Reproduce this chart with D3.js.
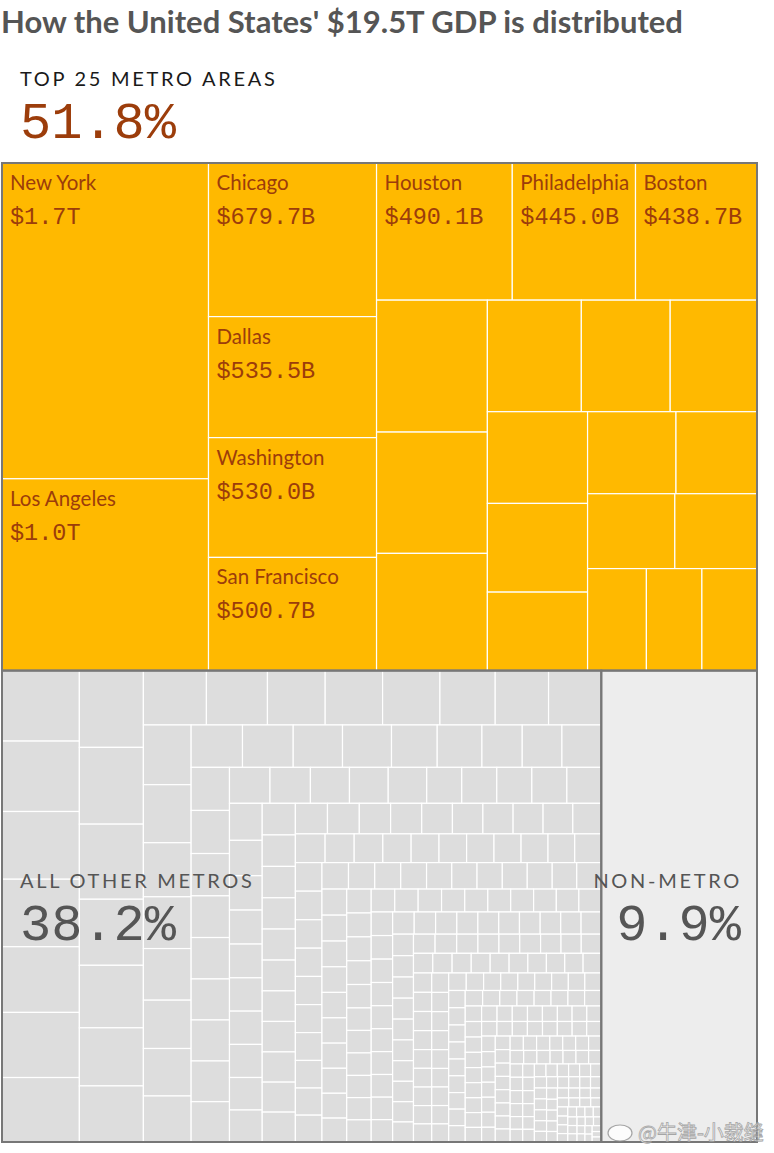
<!DOCTYPE html>
<html>
<head>
<meta charset="utf-8">
<title>US GDP by metro area</title>
<script src="https://cdn.jsdelivr.net/npm/d3@7/dist/d3.min.js"></script>
<style>
  html, body { margin: 0; padding: 0; background: #fff; }
  svg { display: block; }
  .cell-name { font-family: Lato, 'Open Sans', sans-serif; font-size: 20.5px; fill: #9c3d0b; }
  .cell-value { font-family: 'Liberation Mono', 'DejaVu Sans Mono', monospace; font-size: 23.5px; fill: #9c3d0b; }
  .group-label { font-family: Lato, sans-serif; font-size: 20px; letter-spacing: 2.7px; }
  .group-pct { font-family: 'Liberation Mono', 'DejaVu Sans Mono', monospace; font-size: 52px; }
</style>
</head>
<body>
<svg id="chart" width="774" height="1153"></svg>
<script>
// GDP in billions of dollars (cell areas)
const titleText = "How the United States' $19.5T GDP is distributed";
const groupLabels = ['TOP 25 METRO AREAS', 'ALL OTHER METROS', 'NON-METRO'];

const topMetroNames = ['New York', 'Los Angeles', 'Chicago', 'Dallas', 'Washington',
  'San Francisco', 'Houston', 'Philadelphia', 'Boston'];
const topMetroValues = [1717, 1043, 679.7, 535.5, 530.0, 500.7, 490.1, 445.0, 438.7,
  385, 354, 342, 276, 261, 255, 242, 234, 207, 191, 175, 172, 162, 158, 149, 148];

const otherMetroValues = [
  143.6, 143.4, 137.9, 137.5, 133.8, 132.6, 131.3,
  129.5, 129.4, 126.6, 111.4, 105.4, 97.9, 94.6,
  90.3, 87.4, 82.7, 82.2, 82.1, 79.2, 76.4, 75.5,
  75.1, 73.0, 68.0, 65.1, 64.9, 60.8, 59.7, 57.9,
  57.3, 56.6, 55.0, 54.7, 51.0, 49.9, 45.0, 44.3, 43.9,
  43.5, 43.5, 42.7, 42.1, 41.8, 41.4, 41.4, 41.1, 40.7,
  38.4, 38.3, 37.0, 36.7, 36.5, 33.2, 33.2, 33.2, 33.2, 32.6,
  31.9, 30.5, 29.6, 29.3, 29.1, 28.7, 28.7, 28.5, 28.0, 27.6,
  27.6, 27.5, 27.4, 27.3, 27.1, 26.9, 26.7, 26.6, 26.4, 26.2,
  26.1, 25.8, 25.6, 25.2, 25.0, 24.7, 24.5, 24.3, 24.1, 23.9,
  22.9, 22.5, 22.0, 21.7, 21.4, 21.1, 20.9, 20.7, 20.5, 20.4, 20.2,
  20.1, 20.0, 20.0, 19.9, 19.8, 19.7, 19.6, 19.5, 19.3, 19.0,
  18.8, 18.5, 18.3, 18.1, 18.0, 17.6, 17.6, 17.6, 17.4, 17.4, 17.1,
  17.1, 17.0, 16.9, 16.8, 16.7, 16.6, 16.5, 16.4, 16.3, 16.2,
  15.6, 15.4, 15.4, 15.4, 15.3, 15.1, 14.5, 14.5, 14.5, 14.3, 14.3,
  14.3, 14.2, 14.1, 14.1, 14.0, 13.9, 13.8, 13.8, 13.7, 13.6,
  13.5, 13.3, 13.3, 13.2, 13.1, 13.0, 12.9, 12.9, 12.8, 12.7,
  12.6, 12.6, 12.5, 12.4, 12.3, 12.2, 12.1, 12.1, 12.0, 11.9,
  11.8, 11.8, 11.7, 11.6, 11.5, 11.4, 11.4, 11.3, 11.2, 11.1,
  11.0, 10.9, 10.9, 10.7, 10.6, 10.5, 10.5, 10.3, 10.2, 10.1, 10.0, 10.0,
  9.9, 9.8, 9.8, 9.7, 9.6, 9.5, 9.5, 9.4, 9.3, 9.2,
  9.2, 9.1, 9.0, 9.0, 8.9, 8.8, 8.7, 8.7, 8.6, 8.5,
  8.5, 8.4, 8.3, 8.3, 8.2, 8.1, 8.1, 8.0, 7.9, 7.9,
  7.8, 7.8, 7.7, 7.6, 7.6, 7.5, 7.5, 7.4, 7.4, 7.3,
  7.3, 7.2, 7.2, 7.1, 7.1, 7.0, 7.0, 7.0, 6.9, 6.9,
  6.8, 6.8, 6.7, 6.7, 6.6, 6.6, 6.5, 6.5, 6.4, 6.4,
  6.3, 6.3, 6.2, 6.2, 6.1, 6.1, 6.0, 6.0, 5.9, 5.9,
  5.9, 5.8, 5.8, 5.7, 5.7, 5.6, 5.6, 5.6, 5.5, 5.5,
  5.4, 5.4, 5.4, 5.3, 5.3, 5.3, 5.2, 5.2, 5.2, 5.1,
  5.1, 5.1, 5.0, 5.0, 5.0, 4.9, 4.9, 4.9, 4.8, 4.8,
  4.7, 4.7, 4.6, 4.6, 4.5, 4.5, 4.4, 4.4, 4.3, 4.3,
  4.2, 4.2, 4.1, 4.1, 4.0, 4.0, 3.9, 3.9, 3.9, 3.8,
  3.8, 3.7, 3.7, 3.6, 3.6, 3.5, 3.5, 3.5, 3.4, 3.4,
  3.3, 3.3, 3.3, 3.2, 3.2, 3.2, 3.1, 3.1, 3.0, 3.0,
  2.9, 2.9, 2.8, 2.8, 2.7, 2.6, 2.6, 2.5, 2.5, 2.4,
  2.4, 2.3, 2.3, 2.2, 2.2, 2.1, 2.1, 2.0, 2.0, 1.9,
  1.9, 1.8, 1.7, 1.7, 1.6, 1.5, 1.4, 1.3, 1.2
];

const nonMetroValue = 1933;

(function () {
  'use strict';

  const svg = d3.select('#chart');
  const box = { x0: 2, y0: 163, x1: 757, y1: 1142 };

  const fill = { top: '#ffb900', other: '#dddddd', non: '#ededed' };
  const ink = { top: '#1a1a1a', other: '#555555', non: '#555555' };

  // ── Hierarchy ───────────────────────────────────────────────────────────────
  const root = d3.hierarchy({
    children: [
      { key: 'top', label: groupLabels[0],
        children: topMetroValues.map((v, i) => ({ name: topMetroNames[i] || null, value: v })) },
      { key: 'other', label: groupLabels[1],
        children: otherMetroValues.map(v => ({ value: v })) },
      { key: 'non', label: groupLabels[2], value: nonMetroValue }
    ]
  })
    .sum(d => d.children ? 0 : d.value)
    .sort((a, b) => b.value - a.value);

  d3.treemap()
    .tile(d3.treemapSquarify.ratio(1))
    .size([box.x1 - box.x0, box.y1 - box.y0])(root);

  const pct = v => d3.format('.1f')(v / root.value * 100) + '%';
  const money = v => v >= 1000 ? '$' + (v / 1000).toFixed(1) + 'T' : '$' + v.toFixed(1) + 'B';

  // ── Title ───────────────────────────────────────────────────────────────────
  svg.append('text')
    .attr('x', 1).attr('y', 33)
    .attr('font-family', 'Lato, sans-serif')
    .attr('font-weight', 700)
    .attr('font-size', 31)
    .attr('fill', '#555')
    .text(titleText);

  const plot = svg.append('g').attr('transform', `translate(${box.x0},${box.y0})`);

  // ── Cells ───────────────────────────────────────────────────────────────────
  const groups = root.children;

  groups.forEach(g => {
    const key = g.data.key;
    if (!g.children) {
      plot.append('rect')
        .attr('x', g.x0).attr('y', g.y0)
        .attr('width', g.x1 - g.x0).attr('height', g.y1 - g.y0)
        .attr('fill', fill[key]);
      return;
    }
    plot.append('g')
      .selectAll('rect')
      .data(g.children)
      .join('rect')
      .attr('x', d => d.x0).attr('y', d => d.y0)
      .attr('width', d => d.x1 - d.x0).attr('height', d => d.y1 - d.y0)
      .attr('fill', fill[key])
      .attr('stroke', '#fff')
      .attr('stroke-width', 1.2);
  });

  // Group outlines on top of the white cell borders
  plot.append('g')
    .selectAll('rect')
    .data(groups)
    .join('rect')
    .attr('x', d => d.x0).attr('y', d => d.y0)
    .attr('width', d => d.x1 - d.x0).attr('height', d => d.y1 - d.y0)
    .attr('fill', 'none')
    .attr('stroke', '#777')
    .attr('stroke-width', 2);

  // ── Metro labels (named cells only) ─────────────────────────────────────────
  const named = groups[0].children.filter(d => d.data.name);
  const lbl = plot.append('g')
    .selectAll('g')
    .data(named)
    .join('g')
    .attr('transform', d => `translate(${d.x0 + 8},${d.y0})`);
  lbl.append('text').attr('class', 'cell-name').attr('y', 27).text(d => d.data.name);
  lbl.append('text').attr('class', 'cell-value').attr('y', 61).text(d => money(d.value));

  // ── Group labels ────────────────────────────────────────────────────────────
  groups.forEach(g => {
    const key = g.data.key;
    let x, y, anchor = 'start';
    if (key === 'top') {
      x = 20; y = 86;
    } else {
      const cy = box.y0 + (g.y0 + g.y1) / 2;
      y = cy - 18;
      if (key === 'other') { x = box.x0 + g.x0 + 18; }
      else { x = box.x0 + g.x1 - 15; anchor = 'end'; }
    }
    svg.append('text')
      .attr('class', 'group-label')
      .attr('x', x).attr('y', y)
      .attr('text-anchor', anchor)
      .attr('fill', ink[key])
      .text(g.data.label);
    svg.append('text')
      .attr('class', 'group-pct')
      .attr('x', anchor === 'end' ? x - 1 : x).attr('y', y + 52)
      .attr('text-anchor', anchor)
      .attr('fill', key === 'top' ? '#9c3d0b' : '#555')
      .text(pct(g.value));
  });

  // ── Watermark ───────────────────────────────────────────────────────────────
  const wm = svg.append('g').attr('opacity', 0.85);
  wm.append('ellipse')
    .attr('cx', 620).attr('cy', 1133).attr('rx', 12).attr('ry', 8)
    .attr('fill', '#fff').attr('stroke', '#999').attr('stroke-width', 1.2);
  wm.append('text')
    .attr('x', 638).attr('y', 1140)
    .attr('font-family', "'Noto Sans CJK SC', sans-serif")
    .attr('font-size', 20)
    .attr('fill', '#fff')
    .attr('stroke', '#999')
    .attr('stroke-width', 0.8)
    .text('@牛津-小裁缝');
})();
</script>
</body>
</html>
